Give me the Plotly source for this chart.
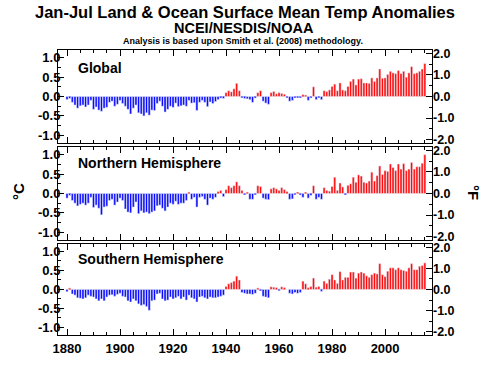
import plotly.graph_objects as go

years = list(range(1880, 2016))

global_anom = [
    -0.08, -0.05, -0.15, -0.22, -0.30, -0.24, -0.22, -0.27, -0.22, -0.10,
    -0.33, -0.27, -0.35, -0.38, -0.30, -0.28, -0.15, -0.12, -0.25, -0.20,
    -0.10, -0.18, -0.25, -0.33, -0.45, -0.30, -0.22, -0.42, -0.45, -0.50,
    -0.42, -0.48, -0.35, -0.36, -0.18, -0.12, -0.25, -0.40, -0.33, -0.25,
    -0.28, -0.17, -0.26, -0.24, -0.22, -0.25, -0.10, -0.17, -0.16, -0.36,
    -0.15, -0.10, -0.15, -0.26, -0.14, -0.18, -0.13, -0.08, -0.04, -0.05,
    0.10, 0.15, 0.12, 0.20, 0.34, 0.15, -0.03, -0.05, -0.06, -0.08,
    -0.15, -0.04, 0.10, 0.15, -0.12, -0.17, -0.20, 0.10, 0.13, 0.07,
    0.10, 0.08, 0.06, -0.03, -0.12, -0.10, -0.02, -0.03, -0.02, 0.05,
    0.02, -0.10, -0.02, 0.25, -0.08, -0.03, -0.08, 0.15, 0.13, 0.17,
    0.26, 0.32, 0.15, 0.35, 0.17, 0.15, 0.26, 0.39, 0.45, 0.30,
    0.45, 0.46, 0.35, 0.35, 0.34, 0.48, 0.39, 0.48, 0.71, 0.47,
    0.48, 0.57, 0.65, 0.61, 0.59, 0.67, 0.59, 0.65, 0.50, 0.61,
    0.77, 0.59, 0.61, 0.65, 0.71, 0.85,
]

nh_anom = [
    -0.12, -0.05, -0.18, -0.25, -0.32, -0.28, -0.25, -0.30, -0.25, -0.10,
    -0.36, -0.30, -0.38, -0.55, -0.35, -0.33, -0.18, -0.15, -0.30, -0.22,
    -0.12, -0.18, -0.40, -0.48, -0.50, -0.35, -0.22, -0.52, -0.45, -0.50,
    -0.48, -0.52, -0.48, -0.45, -0.32, -0.30, -0.38, -0.45, -0.35, -0.25,
    -0.28, -0.20, -0.28, -0.25, -0.25, -0.18, 0.03, -0.15, -0.10, -0.35,
    -0.10, -0.08, -0.15, -0.30, -0.12, -0.15, -0.10, 0.05, 0.08, -0.08,
    0.10, 0.20, 0.15, 0.20, 0.30, 0.20, 0.08, -0.02, 0.03, -0.15,
    -0.15, -0.02, 0.20, 0.18, -0.12, -0.15, -0.16, 0.12, 0.15, 0.12,
    0.08, 0.15, 0.10, 0.05, -0.15, -0.14, -0.03, 0.02, -0.04, -0.10,
    0.03, -0.12, -0.05, 0.20, -0.15, -0.10, -0.15, 0.15, 0.08, 0.06,
    0.18, 0.42, 0.08, 0.27, 0.17, -0.02, 0.21, 0.25, 0.42, 0.29,
    0.48, 0.45, 0.29, 0.27, 0.32, 0.55, 0.32, 0.46, 0.71, 0.49,
    0.59, 0.57, 0.76, 0.67, 0.59, 0.76, 0.63, 0.77, 0.59, 0.63,
    0.80, 0.63, 0.69, 0.69, 0.78, 1.00,
]

sh_anom = [
    -0.06, 0.02, -0.12, -0.15, -0.22, -0.23, -0.25, -0.22, -0.15, -0.18,
    -0.20, -0.25, -0.30, -0.25, -0.30, -0.20, -0.15, -0.14, -0.18, -0.13,
    -0.10, -0.18, -0.20, -0.30, -0.33, -0.25, -0.30, -0.38, -0.42, -0.40,
    -0.45, -0.55, -0.30, -0.28, -0.12, -0.10, -0.25, -0.30, -0.28, -0.20,
    -0.25, -0.22, -0.18, -0.25, -0.20, -0.28, -0.15, -0.22, -0.25, -0.33,
    -0.20, -0.18, -0.22, -0.25, -0.20, -0.22, -0.22, -0.20, -0.18, -0.15,
    0.08, 0.15, 0.18, 0.22, 0.35, 0.25, -0.08, -0.10, -0.12, -0.12,
    -0.13, -0.10, 0.02, -0.02, -0.18, -0.20, -0.22, 0.07, 0.06, 0.05,
    -0.03, 0.07, 0.05, 0.00, -0.10, -0.12, -0.08, -0.10, -0.08, 0.22,
    0.15, 0.05, 0.08, 0.30, 0.06, 0.08, -0.05, 0.22, 0.16, 0.27,
    0.39, 0.25, 0.16, 0.47, 0.25, 0.32, 0.32, 0.46, 0.46, 0.30,
    0.43, 0.46, 0.43, 0.36, 0.32, 0.39, 0.43, 0.41, 0.68, 0.39,
    0.34, 0.48, 0.57, 0.57, 0.52, 0.57, 0.52, 0.50, 0.48, 0.57,
    0.68, 0.52, 0.52, 0.61, 0.63, 0.70,
]

panel_names = ["Global", "Northern Hemisphere", "Southern Hemisphere"]
panel_series = [global_anom, nh_anom, sh_anom]

x_tickvals = [1880, 1900, 1920, 1940, 1960, 1980, 2000]
c_tickvals = [-1.0, -0.5, 0.0, 0.5, 1.0]
f_tickvals = [-2.0, -1.0, 0.0, 1.0, 2.0]

BLUE = "#0a0aff"
RED = "#ff0a0a"
FONT = "Liberation Sans, Arial, sans-serif"

W, H = 488, 368
PL, PR, PT, PB = 58, 432, 50, 341   # plot area in page pixels

domains = [[0.6735, 1.0], [0.3333, 0.6598], [0.0, 0.3196]]
C_RANGE = [-1.2, 1.2]
F_RANGE = [C_RANGE[0] * 1.8, C_RANGE[1] * 1.8]
X_RANGE = [1876.6, 2017.7]


def px(x):
    return (x - PL) / (PR - PL)


def py(y):
    return (PB - y) / (PB - PT)


fig = go.Figure()
layout = dict(
    width=W, height=H,
    margin=dict(l=PL, r=W - PR, t=PT, b=H - PB),
    paper_bgcolor="white", plot_bgcolor="white",
    showlegend=False,
    bargap=0.2,
    barmode="overlay",
    font=dict(family=FONT, color="black"),
)

tickfont = dict(family=FONT, size=13, color="black", weight="bold")
rtickfont = dict(family=FONT, size=12.5, color="black", weight="bold")

for i, (name, vals) in enumerate(zip(panel_names, panel_series)):
    k = i + 1
    kr = i + 4
    xa = "x" if k == 1 else f"x{k}"
    ya = "y" if k == 1 else f"y{k}"
    colors = [RED if v > 0 else BLUE for v in vals]
    fig.add_trace(go.Bar(
        x=years, y=vals, marker=dict(color=colors, line=dict(width=0)),
        xaxis=xa, yaxis=ya, hoverinfo="x+y",
    ))
    # same series in °F on the right-hand axis (transparent)
    fig.add_trace(go.Bar(
        x=years, y=[v * 1.8 for v in vals], marker=dict(color="rgba(0,0,0,0)"),
        xaxis=xa, yaxis=f"y{kr}", hoverinfo="skip",
    ))
    xkey = "xaxis" if k == 1 else f"xaxis{k}"
    ykey = "yaxis" if k == 1 else f"yaxis{k}"
    layout[xkey] = dict(
        domain=[0, 1], range=X_RANGE, anchor=ya,
        showline=True, linecolor="black", linewidth=1, mirror="ticks",
        ticks="inside", ticklen=6, tickcolor="black", tickwidth=1,
        tickvals=x_tickvals, showticklabels=(k == 3),
        tickfont=tickfont, ticklabelstandoff=1,
        minor=dict(dtick=5, tick0=1880, ticks="inside", ticklen=3, tickcolor="black"),
        showgrid=False, zeroline=False,
    )
    layout[ykey] = dict(
        domain=domains[i], range=C_RANGE, anchor=xa,
        showline=True, linecolor="black", linewidth=1, mirror=True,
        ticks="inside", ticklen=6, tickcolor="black", tickwidth=1,
        tickvals=c_tickvals, ticktext=[f"{v:.1f}" for v in c_tickvals],
        tickfont=tickfont, ticklabelstandoff=-6,
        minor=dict(dtick=0.25, tick0=0, ticks="inside", ticklen=3, tickcolor="black"),
        showgrid=False, zeroline=False,
    )
    layout[f"yaxis{kr}"] = dict(
        overlaying=ya, side="right", range=F_RANGE, anchor=xa,
        showline=False,
        ticks="inside", ticklen=6, tickcolor="black", tickwidth=1,
        tickvals=f_tickvals, ticktext=[f"{v:.1f}" for v in f_tickvals],
        tickfont=rtickfont,
        minor=dict(dtick=0.5, tick0=0, ticks="inside", ticklen=3, tickcolor="black"),
        showgrid=False, zeroline=False,
    )

titles = [
    ("<b>Jan-Jul Land & Ocean Surface Mean Temp Anomalies</b>", 245, 11.5, 16.5),
    ("<b>NCEI/NESDIS/NOAA</b>", 244, 27.5, 14.5),
    ("<b>Analysis is based upon Smith et al. (2008) methodology.</b>", 243, 40.5, 9),
]
anns = []
for text, x, y, size in titles:
    anns.append(dict(text=text, xref="paper", yref="paper",
                     x=px(x), y=py(y), xanchor="center", yanchor="middle",
                     showarrow=False, font=dict(family=FONT, color="black", size=size)))

label_ypix = [68, 165, 263]
for name, ly in zip(panel_names, label_ypix):
    anns.append(dict(text=f"<b>{name}</b>", xref="paper", yref="paper",
                     x=px(76), y=py(ly), xanchor="left", yanchor="middle",
                     showarrow=False, font=dict(family=FONT, size=14, color="black")))
anns.append(dict(text="<b>°C</b>", xref="paper", yref="paper",
                 x=px(18), y=py(195), textangle=-90,
                 xanchor="center", yanchor="middle", showarrow=False,
                 font=dict(family=FONT, size=15, color="black")))
anns.append(dict(text="<b>°F</b>", xref="paper", yref="paper",
                 x=px(474), y=py(195), textangle=90,
                 xanchor="center", yanchor="middle", showarrow=False,
                 font=dict(family=FONT, size=15, color="black")))
layout["annotations"] = anns

fig.update_layout(**layout)
fig.write_html("out.html", config={"displayModeBar": False},
               post_script="document.body.style.margin='0';document.body.style.padding='0';")
